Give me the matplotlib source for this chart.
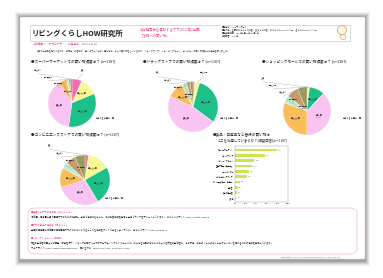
import matplotlib
matplotlib.use("Agg")
import matplotlib.pyplot as plt
import matplotlib.patches as mpatches
import numpy as np

plt.rcParams['font.family'] = ['Noto Sans CJK JP', 'DejaVu Sans']

W, H = 383, 278

# ---- data ----
freq_labels = ['毎日', '週に4～5回', '週に2～3回', '週に1回', '月に2～3回',
               '月に1回程度', '月に1回未満', '利用しない']
freq_colors = ['#f06eb4', '#f8f890', '#1ec08a', '#f9c3f2', '#fbbd5c',
               '#b8f0d0', '#c89a6a', '#9a9a60']

super_vals = [6.7, 12.1, 33.5, 38.6, 5.4, 1.4, 1.0, 1.3]
drug_vals = [1.2, 3.1, 30.8, 46.9, 10.6, 3.2, 2.4, 1.8]
mall_vals = [0.6, 1.1, 10.3, 38.2, 30.4, 5.1, 7.9, 6.4]
conv_vals = [2.3, 14.5, 24.6, 28.8, 12.7, 4.2, 6.3, 6.6]

shop_labels = ['スーパーマーケット', 'ドラッグストア', 'ショッピングモール', '生協の宅配・共同購入',
               'ホームセンター', 'コンビニエンスストア', 'ネット通販(食品・日用品)',
               '百貨店', '食品の専門店', 'その他']
shop_vals = [78.6, 56.1, 36.7, 31.5, 26.8, 22.7, 9.4, 5.2, 4.1, 2.6]

fig = plt.figure(figsize=(W / 100, H / 100), dpi=100)
fig.patch.set_facecolor('white')


def fx(x):
    return x / W


def fy(y):
    return 1 - y / H


def ftext(x, y, s, size=2.2, color='#333333', **kw):
    fig.text(fx(x), fy(y), s, fontsize=size, color=color, va='center', zorder=6, **kw)


# page shadow + page
for i, a in enumerate([0.05, 0.06, 0.08, 0.10, 0.12]):
    d = 5 - i
    fig.patches.append(mpatches.Rectangle((fx(20 - d), fy(261 + d)), (345 + 2 * d) / W, (244 + 2 * d) / H,
                                          transform=fig.transFigure, facecolor='black', alpha=a,
                                          edgecolor='none', zorder=0))
fig.patches.append(mpatches.Rectangle((fx(20), fy(259)), 345 / W, 242 / H, transform=fig.transFigure,
                                      facecolor='white', edgecolor='#cccccc', lw=0.3, zorder=1))

# header
fig.patches.append(mpatches.Rectangle((fx(30), fy(41)), 320 / W, 16 / H, transform=fig.transFigure,
                                      facecolor='white', edgecolor='#bbbbbb', lw=0.4, zorder=2))
ftext(32, 33, 'リビングくらしHOW研究所', size=5.3, color='#222222', weight='bold')
ftext(140, 30, '今後購買先を意識するママ(2017年/全国)', size=2.4, color='#e8508c')
ftext(140, 35, '「店舗への買い物」', size=2.4, color='#e8508c')
ftext(222, 27, '調査方法：WEBアンケート', size=1.5)
ftext(222, 30, '調査対象：全国のあんふぁん読者、ぎゅって読者、あんふぁんWebメンバー、ぎゅってWebメンバー', size=1.5)
ftext(222, 33, '調査実施期間：2017年5月31日～6月7日', size=1.5)
ftext(222, 36, '有効回答：1187件', size=1.5)
fig.patches.append(mpatches.Ellipse((fx(342), fy(30)), 9 / W, 9 / H, transform=fig.transFigure,
                                    facecolor='#fff6e6', edgecolor='#c89a50', lw=0.5, zorder=3))
fig.patches.append(mpatches.Ellipse((fx(343), fy(37)), 6 / W, 5 / H, transform=fig.transFigure,
                                    facecolor='#fff6e6', edgecolor='#c89a50', lw=0.4, zorder=3))
ftext(33, 44, '今後購買へ…アプローチ……利用意向…(あんふぁん)', size=2.0, color='#e8508c')
ftext(37, 51, '食品や日用品を購入するのは、自宅近くの店舗か、遠くのスーパーか。週に何日、どこで買い物をしているのか、ドラッグストア、ショッピングモール、'
      'コンビニへの買い物頻度と利用先を調べました。', size=1.5, color='#444444')


def draw_pie(cx, cy, r, vals, title, tx, ty, note_xy):
    ax = fig.add_axes([fx(cx - r), fy(cy + r), 2 * r / W, 2 * r / H])
    ax.set_zorder(5)
    wedges, _ = ax.pie(vals, colors=freq_colors, startangle=90, counterclock=False,
                       wedgeprops=dict(edgecolor='white', linewidth=0.2))
    ax.set_aspect('auto')
    tot = sum(vals)
    small = {1: [], -1: []}
    for w, lab, v in zip(wedges, freq_labels, vals):
        ang = np.deg2rad((w.theta1 + w.theta2) / 2)
        p = v / tot * 100
        if p >= 8:
            ax.text(0.55 * np.cos(ang), 0.55 * np.sin(ang), f'{lab}\n{p:.1f}%',
                    ha='center', va='center', fontsize=1.4, color='#333333', linespacing=1.1)
        else:
            side = 1 if np.cos(ang) >= 0.15 else -1
            small[side].append((ang, lab, p))
    for side, items in small.items():
        items.sort(key=lambda t: -np.sin(t[0]))
        n = len(items)
        for j, (ang, lab, p) in enumerate(items):
            x0, y0 = np.cos(ang), np.sin(ang)
            if side > 0:
                lx = 0.45 + 0.45 * j
                ly = 1.32 - 0.12 * j
            else:
                lx = -0.15 - 0.42 * (n - 1 - j) if n > 1 else -0.6
                ly = 1.32 - 0.3 * j
            ax.plot([x0, lx], [y0, ly - 0.1], color='#888888', lw=0.2, clip_on=False)
            ax.text(lx, ly + 0.05, f'{lab}\n{p:.1f}%', ha='center', va='center',
                    fontsize=1.2, color='#333333', linespacing=1.1)
    ax.set_xlim(-1, 1)
    ax.set_ylim(-1, 1)
    ftext(tx, ty, title, size=2.6, color='#222222')
    ftext(note_xy[0], note_xy[1], '平均すると週に／回', size=1.5)


draw_pie(72, 103, 24, super_vals, '●スーパーマーケットでの買い物頻度は？ (n=1187)', 31, 62, (96, 118))
draw_pie(193, 107, 25, drug_vals, '●ドラッグストアでの買い物頻度は？ (n=1187)', 143, 62, (220, 118))
draw_pie(307, 111, 24, mall_vals, '●ショッピングモールでの買い物頻度は？ (n=1187)', 262, 62, (343, 118))
draw_pie(85, 180, 25, conv_vals, '●コンビニエンスストアでの買い物頻度は？ (n=1187)', 31, 135, (105, 199))

# bar chart
ftext(213, 135, '●食品・日用品など普段の買い物は', size=2.6, color='#222222')
ftext(217, 141, 'どこを利用していますか？(複数回答)(n=1187)', size=2.4, color='#222222')
bx = fig.add_axes([fx(235), fy(202), 53 / W, 56 / H])
bx.set_zorder(5)
yy = np.arange(len(shop_vals))
bx.barh(yy, shop_vals, color='#c8e650', height=0.55)
for yv, v in zip(yy, shop_vals):
    bx.text(v + 2, yv, f'{v:.1f}', fontsize=1.3, va='center', color='#333333')
bx.set_yticks(yy)
bx.set_yticklabels(shop_labels, fontsize=1.3)
bx.invert_yaxis()
bx.set_xlim(0, 100)
bx.set_xticks([0, 20, 40, 60, 80, 100])
bx.set_xticklabels(['0.0', '20.0', '40.0', '60.0', '80.0', '100.0'], fontsize=1.3)
bx.tick_params(length=0, pad=1)
for s in bx.spines.values():
    s.set_linewidth(0.3)
    s.set_color('#999999')

# footer box
fig.patches.append(mpatches.FancyBboxPatch((fx(28), fy(254)), 329 / W, 46 / H,
                                           boxstyle='round,pad=0,rounding_size=0.02',
                                           transform=fig.transFigure, facecolor='white',
                                           edgecolor='#f2b8cc', lw=0.5, zorder=2))
ftext(31, 212, '■妊娠からママの情報誌「あんふぁん」', size=1.7, color='#e8508c')
ftext(31, 217, '幼稚園・保育園に通う園児ママのための情報誌。子育て情報はもちろん、地域密着情報を発信し子育てライフをサポートしています。  '
      'あんふぁんサイト https://enfant.living.jp', size=1.6, color='#222222')
ftext(31, 225, '■ママの毎日の情報誌「ぎゅって」', size=1.7, color='#e8508c')
ftext(31, 230, '全国の保育園と幼稚園の保育園児ママのためにいつでもどこでも情報をゲットできるメディアです。  ぎゅってサイト https://gyutto.jp',
      size=1.6, color='#222222')
ftext(31, 238, '■リビングくらしHOW研究所', size=1.7, color='#e8508c')
ftext(31, 243, '女性の生活者の暮らしの調査・研究を行う、リビング新聞グループのマーケティングカンパニーです。あらゆる消費の中心にすえられる女性の生活者と、'
      'その家族、日本のくらしのコミュニケーションを深めるための情報を発信しています。', size=1.6, color='#222222')
ftext(31, 248, 'ウェブサイト  https://www.kurashihow.co.jp     問い合わせ   TEL03-5216-9325   FAX03-5216-9420', size=1.6, color='#222222')
fig.text(fx(340), fy(257.5), 'Copyright © 2018 LIVING KurashiHOW Institute All rights reserved.',
         fontsize=1.4, color='#555555', ha='right', va='center', zorder=6)

fig.savefig('out.png', dpi=100, facecolor='white')
